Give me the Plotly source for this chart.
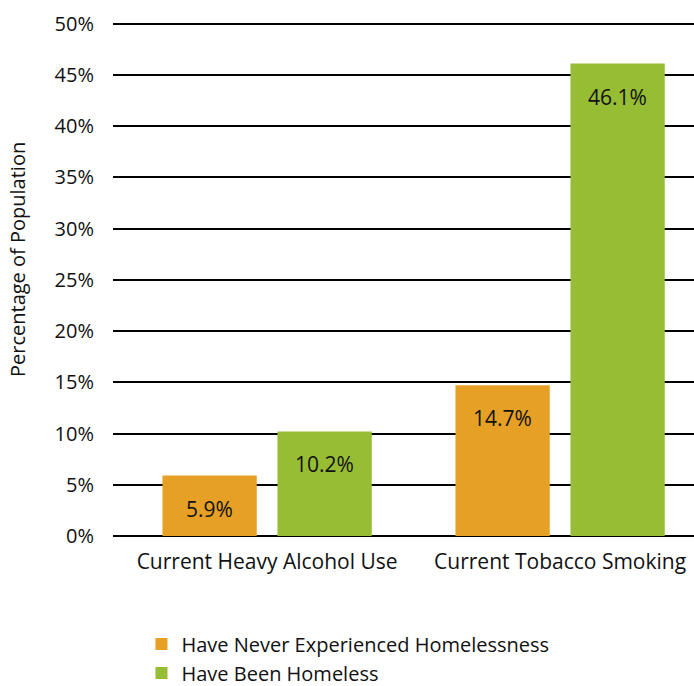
import plotly.graph_objects as go

# Survey results by homelessness experience
categories = ["Current Heavy Alcohol Use", "Current Tobacco Smoking"]
series_names = ["Have Never Experienced Homelessness", "Have Been Homeless"]
never_homeless = [5.9, 14.7]
been_homeless = [10.2, 46.1]
y_ticks = [0, 5, 10, 15, 20, 25, 30, 35, 40, 45, 50]
y_tick_labels = [f"{v}%" for v in y_ticks]
y_title = "Percentage of Population"

colors = ["#E5A025", "#97BD35"]
FONT = "Open Sans, Segoe UI, sans-serif"
TXT = "#111111"

BARGAP = 0.215
BARGROUPGAP = 0.18

fig = go.Figure()
for name, vals, col in zip(series_names, [never_homeless, been_homeless], colors):
    fig.add_trace(go.Bar(
        x=categories, y=vals, name=name,
        marker=dict(color=col, line=dict(width=0)),
        hoverinfo="skip",
    ))

# value labels placed inside each bar, a little below its top
slot = (1 - BARGAP) / 2
for k, vals in enumerate([never_homeless, been_homeless]):
    offset = (k - 0.5) * slot
    for i, v in enumerate(vals):
        fig.add_annotation(
            x=i + offset, y=v, xref="x", yref="y",
            text=f"{v:.1f}%", showarrow=False,
            yanchor="top", yshift=-17,
            font=dict(family=FONT, size=21, color=TXT),
        )

# vertical y-axis title
fig.add_annotation(
    x=-0.1635, y=0.537, xref="paper", yref="paper",
    text=y_title, textangle=-90, showarrow=False,
    xanchor="center", yanchor="middle",
    font=dict(family=FONT, size=20, color=TXT),
)

fig.update_layout(
    width=694, height=686,
    margin=dict(l=113, r=0, t=22, b=150, autoexpand=False),
    paper_bgcolor="white", plot_bgcolor="white",
    barmode="group", bargap=BARGAP, bargroupgap=BARGROUPGAP,
    font=dict(family=FONT, size=20, color=TXT),
    showlegend=True,
    legend=dict(
        orientation="v", x=0.049, xanchor="left",
        y=-0.172, yanchor="top",
        font=dict(family=FONT, size=20, color=TXT),
        itemwidth=30, tracegroupgap=0, bgcolor="rgba(0,0,0,0)",
    ),
    xaxis=dict(
        type="category", range=[-0.526, 1.457],
        showgrid=False, showline=False, ticks="",
        ticklabelstandoff=11, automargin=False,
        tickfont=dict(family=FONT, size=21, color=TXT),
    ),
    yaxis=dict(
        range=[0, 50.15], tickvals=y_ticks, ticktext=y_tick_labels,
        showgrid=True, gridcolor="#000000", gridwidth=2,
        zeroline=True, zerolinecolor="#000000", zerolinewidth=2,
        showline=False, ticks="", ticklabelstandoff=18, automargin=False,
        tickfont=dict(family=FONT, size=20, color=TXT),
    ),
)

fig.write_html("out.html")
